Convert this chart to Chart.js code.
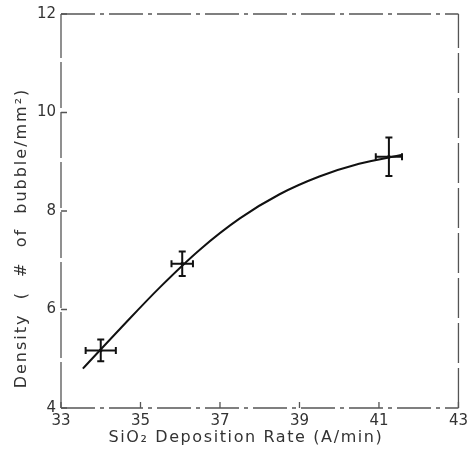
<!DOCTYPE html>
<html>
<head>
<meta charset="utf-8">
<script src="https://cdn.jsdelivr.net/npm/chart.js@4.4.0/dist/chart.umd.min.js"></script>
<style>
  html, body { margin: 0; padding: 0; background: #fff; }
  #wrap { width: 472px; height: 457px; }
</style>
</head>
<body>
<div id="wrap"><canvas id="plot"></canvas></div>
<script>
// fitted curve
const rateCurve = [33.55, 34.5, 35.5, 36.5, 37.5, 38.5, 39.5, 40.5, 41.6];
const densityCurve = [4.8, 5.62, 6.46, 7.22, 7.85, 8.34, 8.7, 8.96, 9.14];
// measured points with their error bars
const rateMeas = [34.0, 36.05, 41.25];
const densityMeas = [5.17, 6.93, 9.1];
const rateErr = [0.38, 0.27, 0.33];
const densityErr = [0.22, 0.25, 0.39];
// axis texts
const xTitle = 'SiO\u2082 Deposition Rate (A/min)';
const yTitle = 'Density  (  #  of  bubble/mm\u00b2)';

const ink = '#111';
const axisInk = '#555';
const fontFam = '"DejaVu Sans", sans-serif';

const curvePts = rateCurve.map((x, i) => ({x: x, y: densityCurve[i]}));
const measPts = rateMeas.map((x, i) => ({x: x, y: densityMeas[i]}));

const errorBars = {
    id: 'errorBars',
    afterDatasetsDraw(chart) {
        const ctx = chart.ctx, xs = chart.scales.x, ys = chart.scales.y;
        ctx.save();
        ctx.strokeStyle = ink;
        ctx.lineWidth = 2;
        const cap = 3.5;
        for (let i = 0; i < rateMeas.length; i++) {
            const px = xs.getPixelForValue(rateMeas[i]);
            const py = ys.getPixelForValue(densityMeas[i]);
            const x0 = xs.getPixelForValue(rateMeas[i] - rateErr[i]);
            const x1 = xs.getPixelForValue(rateMeas[i] + rateErr[i]);
            const y0 = ys.getPixelForValue(densityMeas[i] - densityErr[i]);
            const y1 = ys.getPixelForValue(densityMeas[i] + densityErr[i]);
            ctx.beginPath();
            ctx.moveTo(x0, py); ctx.lineTo(x1, py);
            ctx.moveTo(px, y0); ctx.lineTo(px, y1);
            ctx.moveTo(x0, py - cap); ctx.lineTo(x0, py + cap);
            ctx.moveTo(x1, py - cap); ctx.lineTo(x1, py + cap);
            ctx.moveTo(px - cap, y0); ctx.lineTo(px + cap, y0);
            ctx.moveTo(px - cap, y1); ctx.lineTo(px + cap, y1);
            ctx.stroke();
        }
        ctx.restore();
    }
};

// box with dashed sides, inward ticks, axis titles
const frame = {
    id: 'frame',
    beforeDatasetsDraw(chart) {
        const ctx = chart.ctx, a = chart.chartArea;
        const xs = chart.scales.x, ys = chart.scales.y;
        ctx.save();
        ctx.strokeStyle = axisInk;
        ctx.lineWidth = 1.3;
        const side = (x0, y0, x1, y1, dash) => {
            ctx.setLineDash(dash);
            ctx.beginPath(); ctx.moveTo(x0, y0); ctx.lineTo(x1, y1); ctx.stroke();
        };
        side(a.left, a.bottom, a.left, a.top, [46, 4]);
        side(a.left, a.bottom, a.right, a.bottom, [34, 5, 4, 5]);
        side(a.left, a.top, a.right, a.top, [34, 5, 4, 5]);
        side(a.right, a.bottom, a.right, a.top, [40, 5]);
        ctx.setLineDash([]);
        ctx.beginPath();
        xs.ticks.forEach(t => {
            const p = xs.getPixelForValue(t.value);
            ctx.moveTo(p, a.bottom); ctx.lineTo(p, a.bottom - 6);
        });
        ys.ticks.forEach(t => {
            const p = ys.getPixelForValue(t.value);
            ctx.moveTo(a.left, p); ctx.lineTo(a.left + 6, p);
        });
        ctx.stroke();

        ctx.fillStyle = '#333';
        ctx.font = '16px ' + fontFam;
        ctx.textAlign = 'center';
        ctx.textBaseline = 'middle';
        ctx.letterSpacing = '1.6px';
        ctx.fillText(xTitle, 246, 438);
        ctx.letterSpacing = '2px';
        ctx.translate(22, 238);
        ctx.rotate(-Math.PI / 2);
        ctx.fillText(yTitle, 0, 0);
        ctx.restore();
    }
};

new Chart(document.getElementById('plot'), {
    type: 'scatter',
    data: {
        datasets: [{
            data: curvePts,
            showLine: true,
            borderColor: ink,
            borderWidth: 2,
            pointRadius: 0,
            tension: 0.35
        }, {
            data: measPts,
            pointRadius: 1.5,
            backgroundColor: ink,
            borderColor: ink
        }]
    },
    options: {
        responsive: true,
        maintainAspectRatio: false,
        animation: false,
        layout: { padding: { top: 11, right: 12, left: 0, bottom: 0 } },
        plugins: { legend: { display: false }, tooltip: { enabled: false } },
        scales: {
            x: {
                min: 33, max: 43,
                grid: { display: false, drawTicks: false },
                border: { display: false },
                ticks: { stepSize: 2, padding: 4, color: '#333', font: { family: fontFam, size: 15 } },
                afterFit: s => { s.height = 49; }
            },
            y: {
                min: 4, max: 12,
                grid: { display: false, drawTicks: false },
                border: { display: false },
                ticks: { stepSize: 2, padding: 5, color: '#333', font: { family: fontFam, size: 15 } },
                afterFit: s => { s.width = 61; }
            }
        }
    },
    plugins: [frame, errorBars]
});
</script>
</body>
</html>
